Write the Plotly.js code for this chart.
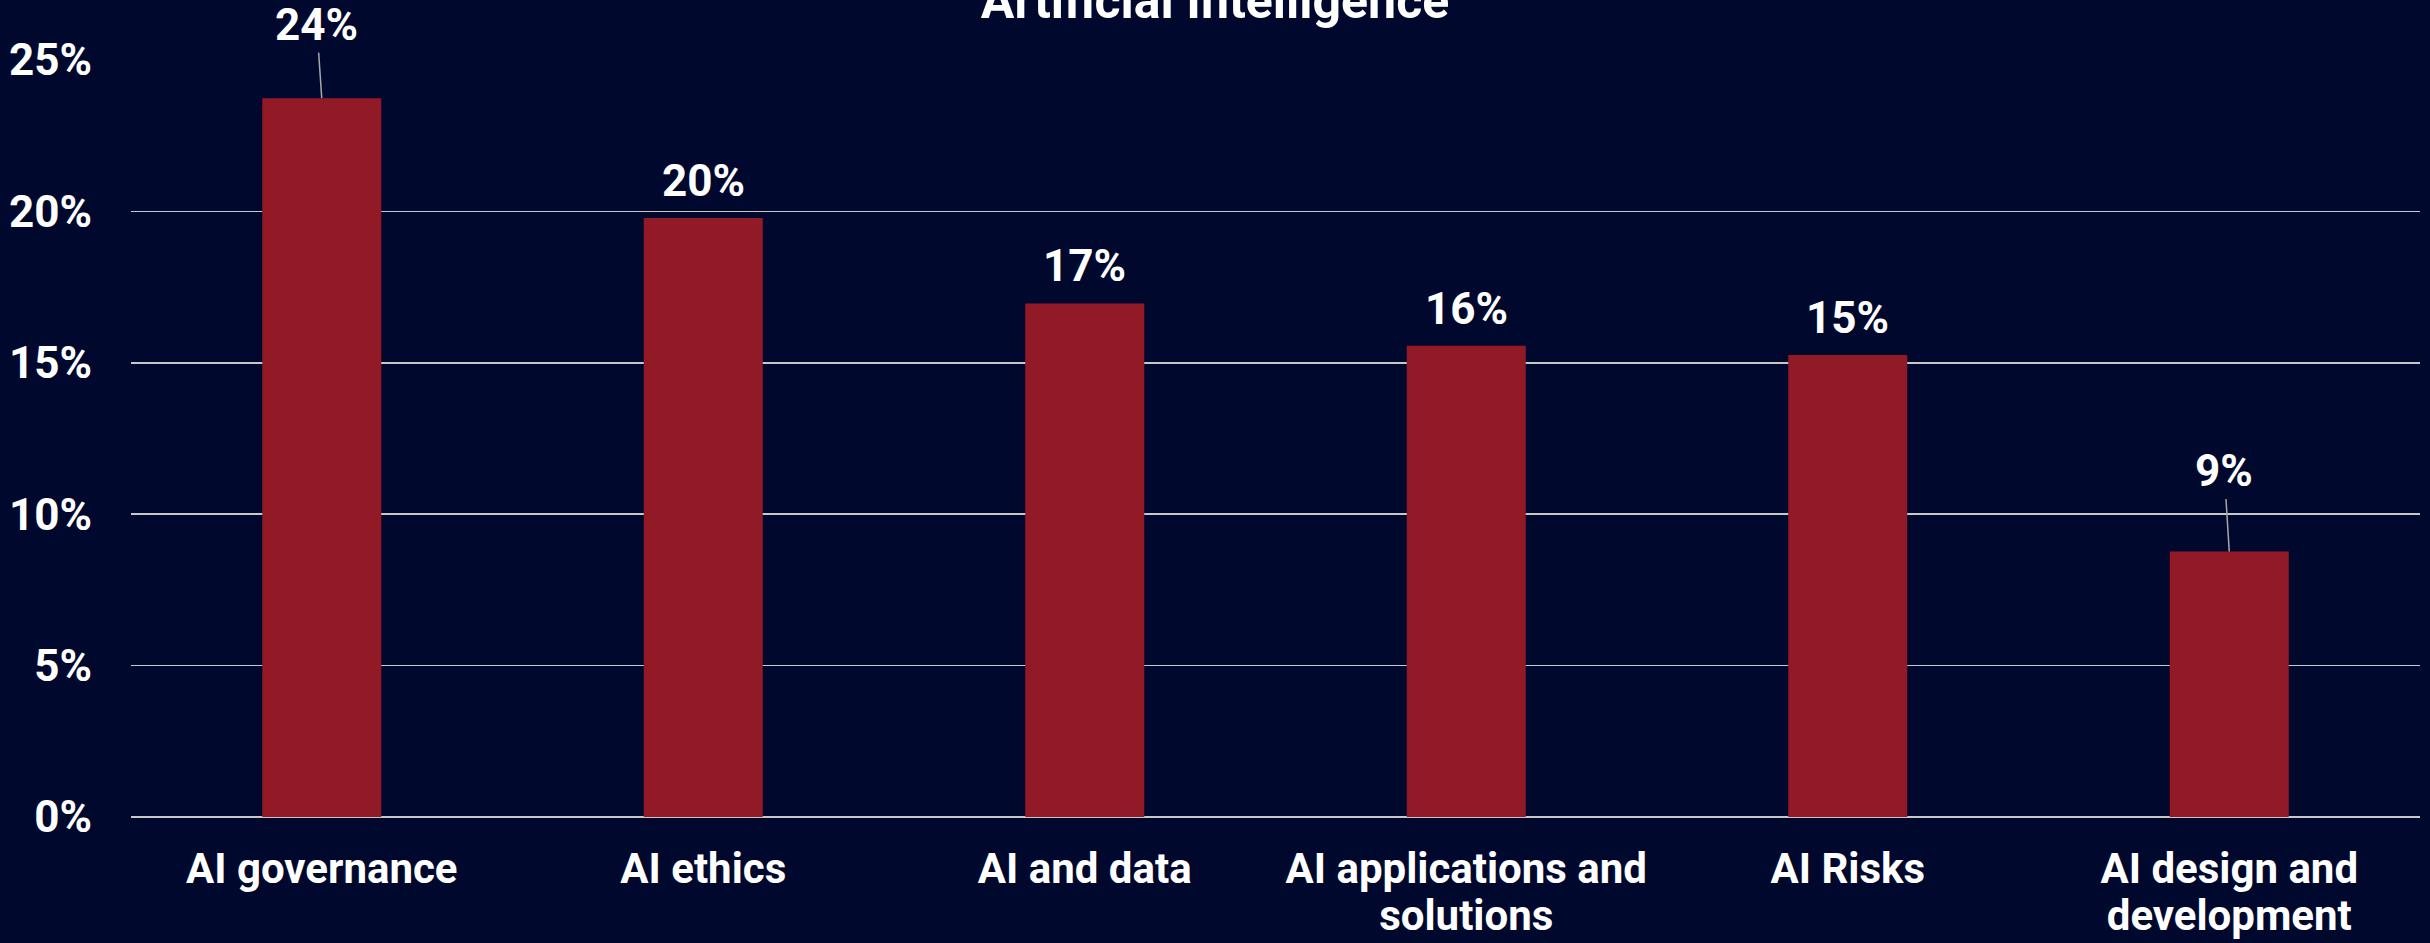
<!DOCTYPE html>
<html>
<head>
<meta charset="utf-8">
<script src="https://cdn.plot.ly/plotly-3.0.1.min.js"></script>
<style>
  html, body { margin: 0; padding: 0; background: #00082E; }
  #chart { width: 2430px; height: 943px; }
</style>
</head>
<body>
<div id="chart"></div>
<script>
// ---- data ----
const categories = [
  "AI governance",
  "AI ethics",
  "AI and data",
  "AI applications and<br>solutions",
  "AI Risks",
  "AI design and<br>development"
];
const shares = [23.74, 19.78, 16.96, 15.56, 15.26, 8.77];
const yTickValues = [0, 5, 10, 15, 20, 25];
const chartTitle = "Artificial Intelligence";

// ---- styling ----
const BG = "#00082E";
const BAR = "#921A26";
const GRID = "#C8C8C8";
const FONT = "Roboto, 'Liberation Sans', sans-serif";
const TEXT_SIZE = 44;
const XTICK_SIZE = 42;

// label placement (pixel offsets) per bar: leader line for some labels
const labelStyle = [
  {arrow: true, ax: -5, ay: -73},
  {arrow: false},
  {arrow: false},
  {arrow: false},
  {arrow: false},
  {arrow: true, ax: -5, ay: -80}
];

const annotations = shares.map((v, i) => {
  const s = labelStyle[i];
  const base = {
    x: categories[i], y: v, xref: "x", yref: "y",
    text: "<b>" + Math.round(v) + "%</b>",
    font: {family: FONT, size: TEXT_SIZE, color: "#FFFFFF"}
  };
  if (s.arrow) {
    return Object.assign(base, {
      showarrow: true, arrowhead: 0, arrowwidth: 1.5, arrowcolor: "#A8A8A8",
      ax: s.ax, ay: s.ay, standoff: 0
    });
  }
  return Object.assign(base, {showarrow: false, yanchor: "bottom", yshift: 9});
});

const trace = {
  type: "bar",
  x: categories,
  y: shares,
  marker: {color: BAR},
  hoverinfo: "skip"
};

const layout = {
  width: 2430,
  height: 943,
  paper_bgcolor: BG,
  plot_bgcolor: BG,
  margin: {l: 131, r: 10, t: 60, b: 126, pad: 0},
  bargap: 0.688,
  showlegend: false,
  font: {family: FONT, color: "#FFFFFF", size: TEXT_SIZE},
  title: {
    text: "<b>" + chartTitle + "</b>",
    font: {family: FONT, size: 50, color: "#FFFFFF"},
    x: 0.5, xref: "container", xanchor: "center",
    y: 1, yref: "container", yanchor: "middle"
  },
  xaxis: {
    type: "category",
    showgrid: false,
    showline: false,
    zeroline: false,
    ticks: "",
    tickfont: {family: FONT, size: XTICK_SIZE, color: "#FFFFFF", weight: "bold"},
    ticklabelstandoff: 23,
    fixedrange: true
  },
  yaxis: {
    range: [0, 25],
    tickvals: yTickValues,
    ticktext: yTickValues.map(v => v + "%"),
    showgrid: true,
    gridcolor: GRID,
    gridwidth: 1.6,
    zeroline: true,
    zerolinecolor: GRID,
    zerolinewidth: 1.6,
    showline: false,
    ticks: "",
    tickfont: {family: FONT, size: TEXT_SIZE, color: "#FFFFFF", weight: "bold"},
    ticklabelstandoff: 38,
    fixedrange: true
  },
  annotations: annotations
};

Plotly.newPlot("chart", [trace], layout, {staticPlot: true, displayModeBar: false}).then(gd => {
  // tighter line spacing for wrapped category labels, as in the reference
  gd.querySelectorAll(".xtick text tspan.line").forEach(t => {
    const dy = t.getAttribute("dy");
    if (dy && parseFloat(dy) > 0) t.setAttribute("dy", "1.12em");
  });
});
</script>
</body>
</html>
